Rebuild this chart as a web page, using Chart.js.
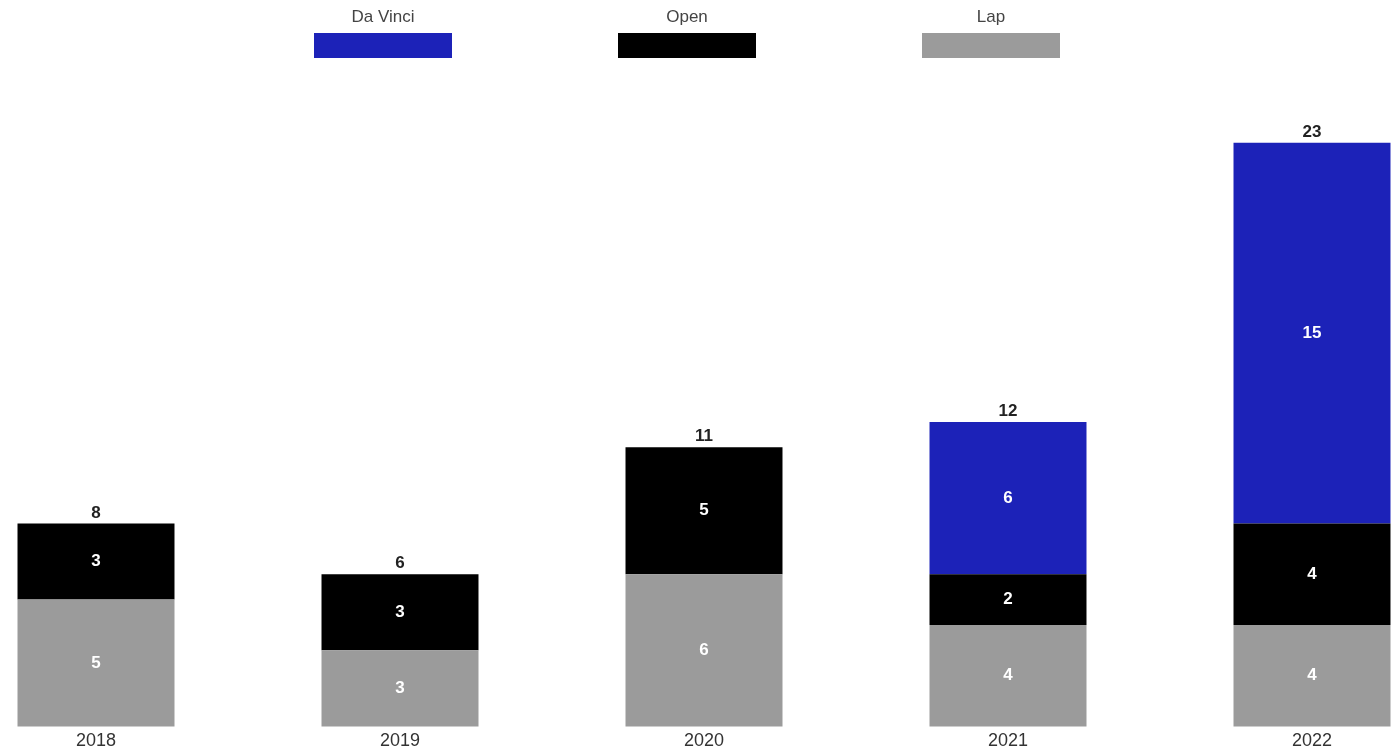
<!DOCTYPE html>
<html>
<head>
<meta charset="utf-8">
<script src="https://cdn.jsdelivr.net/npm/chart.js@4.4.1/dist/chart.umd.min.js"></script>
<style>
    html, body { margin: 0; padding: 0; background: #fff; }
    #wrap { width: 1397px; height: 756px; position: relative; }
</style>
</head>
<body>
<div id="wrap"><canvas id="surgeryChart" width="1397" height="756"></canvas></div>
<script>
// Données
const years = ['2018', '2019', '2020', '2021', '2022'];
const lapValues = [5, 3, 6, 4, 4];
const openValues = [3, 3, 5, 2, 4];
const daVinciValues = [0, 0, 0, 6, 15];

const seriesNames = ['Lap', 'Open', 'Da Vinci'];
const seriesColors = ['#9b9b9b', '#000000', '#1c22b8'];

const FONT = 'Liberation Sans, Arial, sans-serif';

// Légende dessinée au-dessus (texte au-dessus de la case)
const topLegend = {
    id: 'topLegend',
    afterDraw(chart) {
        const ctx = chart.ctx;
        const items = chart.data.datasets.slice().reverse();
        const center = 687;
        const spacing = 304;
        const boxW = 138, boxH = 25, boxTop = 33;
        ctx.save();
        ctx.font = '17px ' + FONT;
        ctx.textAlign = 'center';
        ctx.textBaseline = 'middle';
        items.forEach((ds, i) => {
            const cx = center + (i - (items.length - 1) / 2) * spacing;
            ctx.fillStyle = '#444';
            ctx.fillText(ds.label, cx, 17);
            ctx.fillStyle = ds.backgroundColor;
            ctx.fillRect(cx - boxW / 2, boxTop, boxW, boxH);
        });
        ctx.restore();
    }
};

// Étiquettes dans les segments + totaux
const barLabels = {
    id: 'barLabels',
    afterDatasetsDraw(chart) {
        const ctx = chart.ctx;
        ctx.save();
        ctx.textAlign = 'center';
        const tops = [];
        chart.data.datasets.forEach((ds, di) => {
            const meta = chart.getDatasetMeta(di);
            meta.data.forEach((bar, i) => {
                const v = ds.data[i];
                if (!v) return;
                ctx.font = 'bold 17px ' + FONT;
                ctx.fillStyle = '#fff';
                ctx.textBaseline = 'middle';
                ctx.fillText(String(v), bar.x, (bar.y + bar.base) / 2);
                if (tops[i] === undefined || bar.y < tops[i].y) {
                    tops[i] = { x: bar.x, y: bar.y };
                }
            });
        });
        years.forEach((y, i) => {
            if (!tops[i]) return;
            const total = chart.data.datasets.reduce((s, ds) => s + (ds.data[i] || 0), 0);
            ctx.font = 'bold 17px ' + FONT;
            ctx.fillStyle = '#222';
            ctx.textBaseline = 'bottom';
            ctx.fillText(String(total), tops[i].x, tops[i].y - 2);
        });
        ctx.restore();
    }
};

const chartConfig = {
    type: 'bar',
    data: {
        labels: years,
        datasets: [
            { label: seriesNames[0], data: lapValues, backgroundColor: seriesColors[0] },
            { label: seriesNames[1], data: openValues, backgroundColor: seriesColors[1] },
            { label: seriesNames[2], data: daVinciValues, backgroundColor: seriesColors[2] }
        ].map(ds => Object.assign(ds, {
            borderWidth: 0,
            categoryPercentage: 0.5164,
            barPercentage: 1,
            clip: false
        }))
    },
    options: {
        responsive: false,
        animation: false,
        layout: { padding: { top: 92, left: 96, right: 85, bottom: 0 } },
        scales: {
            x: {
                stacked: true,
                offset: false,
                grid: { display: false, drawTicks: false },
                border: { display: false },
                ticks: { color: '#333', font: { family: FONT, size: 18 }, padding: 4 }
            },
            y: {
                stacked: true,
                display: false,
                min: 0,
                max: 25
            }
        },
        plugins: {
            legend: { display: false },
            tooltip: { enabled: false }
        }
    },
    plugins: [barLabels, topLegend]
};

document.addEventListener('DOMContentLoaded', function () {
    const canvas = document.getElementById('surgeryChart');
    new Chart(canvas, chartConfig);
});
</script>
</body>
</html>
